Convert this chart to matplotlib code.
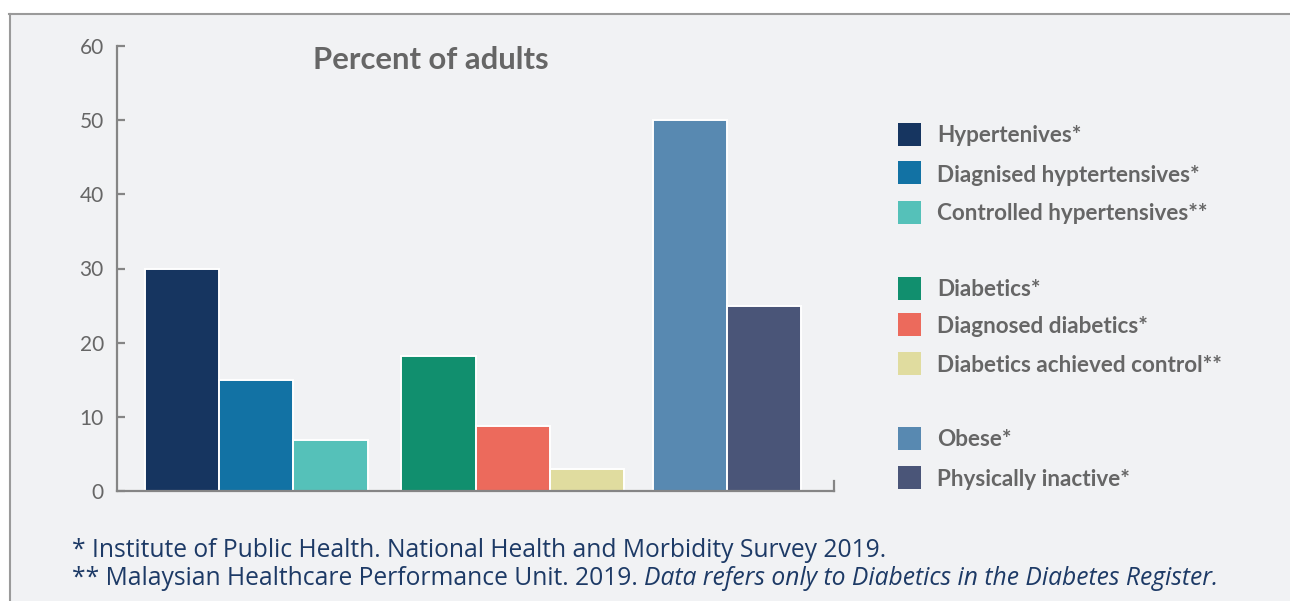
import matplotlib
matplotlib.use("Agg")
import matplotlib.pyplot as plt
from matplotlib.patches import Rectangle
from matplotlib.lines import Line2D

plt.rcParams['font.family'] = ['Lato', 'DejaVu Sans']

# ---- data ----
groups = ["Hypertension", "Diabetes", "Lifestyle"]
labels = [
    ["Hypertenives*", "Diagnised hyptertensives*", "Controlled hypertensives**"],
    ["Diabetics*", "Diagnosed diabetics*", "Diabetics achieved control**"],
    ["Obese*", "Physically inactive*"],
]
values = [
    [30.0, 15.0, 6.9],
    [18.2, 8.8, 3.0],
    [50.0, 25.0],
]
colors = [
    ["#163560", "#1272a4", "#55c1b9"],
    ["#118f6e", "#ec6a5c", "#e0dc9f"],
    ["#5889b1", "#4a5578"],
]
yticks = [0, 10, 20, 30, 40, 50, 60]
title = "Percent of adults"
note1 = "* Institute of Public Health. National Health and Morbidity Survey 2019."
note2a = "** Malaysian Healthcare Performance Unit. 2019. "
note2b = "Data refers only to Diabetics in the Diabetes Register."

W, H = 1290, 601
fig = plt.figure(figsize=(W / 100, H / 100), dpi=100)
fig.patch.set_facecolor("white")

def fx(x):
    return x / W

def fy(y):
    return 1 - y / H

# panel background with top/left border
panel = Rectangle((fx(9), 0), 1 - fx(9), fy(13), transform=fig.transFigure,
                  facecolor="#f1f2f4", edgecolor="none", zorder=0)
fig.add_artist(panel)
fig.add_artist(Line2D([fx(9), 1], [fy(13.5), fy(13.5)], transform=fig.transFigure,
                      color="#9a9a9a", lw=1.5))
fig.add_artist(Line2D([fx(9.5), fx(9.5)], [0, fy(13.5)], transform=fig.transFigure,
                      color="#9a9a9a", lw=1.5))

ax_l, ax_r, ax_t, ax_b = 117, 834, 46, 491
ax = fig.add_axes([fx(ax_l), fy(ax_b), fx(ax_r - ax_l), (ax_b - ax_t) / H])
ax.set_facecolor("none")

group_offsets = [0.0, 3.45, 6.83]
for g, off in enumerate(group_offsets):
    for i, (v, c) in enumerate(zip(values[g], colors[g])):
        ax.bar(off + i, v, width=1.0, color=c, edgecolor="white", linewidth=1.4, zorder=2)

ax.set_xlim(-0.87, 7.83 + 0.94)
ax.set_ylim(0, 60)
ax.set_yticks(yticks)
ax.set_yticklabels([str(t) for t in yticks])
ax.set_xticks([])
for s in ["top", "right"]:
    ax.spines[s].set_visible(False)
for s in ["left", "bottom"]:
    ax.spines[s].set_color("#858585")
    ax.spines[s].set_linewidth(1.6)
    ax.spines[s].set_zorder(3)
ax.tick_params(axis="y", direction="in", length=6, width=1.6, color="#858585",
               labelsize=15, labelcolor="#666666", pad=9.5)
# right-end tick of the x-axis
ax.plot([1, 1], [0, 0.022], transform=ax.transAxes, color="#858585", lw=1.6,
        clip_on=False, zorder=3)

fig.text(fx(313), fy(69), title, fontsize=22.3, fontweight="bold", color="#666666",
         ha="left", va="baseline")

# legend
rows = [134, 173, 212, 288, 325, 363, 438, 477]
k = 0
for g in range(len(labels)):
    for lab, c in zip(labels[g], colors[g]):
        y = rows[k]
        fig.add_artist(Rectangle((fx(898), fy(y + 11.5)), fx(23), 23 / H,
                                 transform=fig.transFigure, facecolor=c,
                                 edgecolor="none"))
        fig.text(fx(937), fy(y + 8.5), lab, fontsize=16.2, fontweight="bold",
                 color="#666666", ha="left", va="baseline")
        k += 1

# footnotes
fn = dict(fontsize=17.7, color="#1d3a66", ha="left", va="baseline",
          family=["Open Sans", "DejaVu Sans"])
fig.text(fx(72), fy(557), note1, **fn)
t2 = fig.text(fx(72), fy(585), note2a, **fn)
fig.canvas.draw()
bb = t2.get_window_extent()
fig.text(bb.x1 / W, fy(585), note2b, style="italic", **fn)

fig.savefig("out.png", dpi=100, facecolor=fig.get_facecolor())
